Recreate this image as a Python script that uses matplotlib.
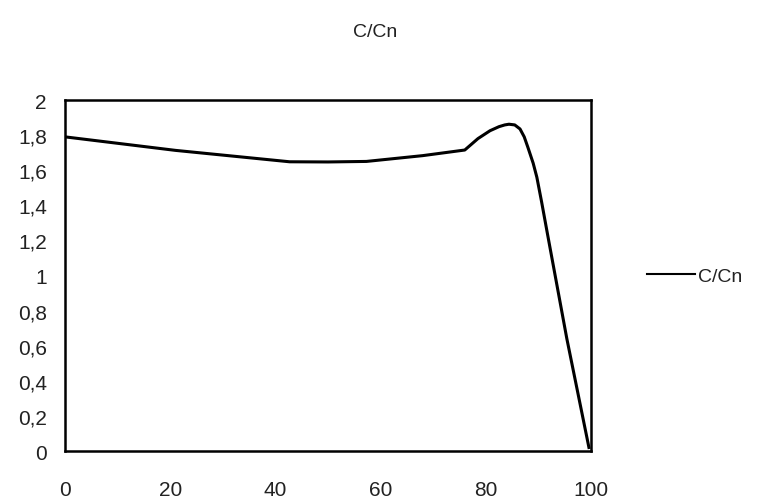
import matplotlib
matplotlib.use("Agg")
import matplotlib.pyplot as plt

# values
pos = [0, 21, 42.7, 50, 57.3, 68, 76, 78.5, 80.8, 82.5, 83.6, 84.4, 85.5, 86.5, 87.3, 88,
       89, 89.7, 90.6, 91.7, 95.4, 99.6]
ratio = [1.79, 1.713, 1.648, 1.647, 1.65, 1.683, 1.715, 1.78, 1.825, 1.848, 1.858, 1.862,
         1.858, 1.835, 1.79, 1.73, 1.64, 1.56, 1.42, 1.24, 0.64, 0.02]
xticks = [0, 20, 40, 60, 80, 100]
yticks = [0, 0.2, 0.4, 0.6, 0.8, 1, 1.2, 1.4, 1.6, 1.8, 2]
ylabels = ["0", "0,2", "0,4", "0,6", "0,8", "1", "1,2", "1,4", "1,6", "1,8", "2"]

plt.rcParams['font.family'] = ['Liberation Sans', 'DejaVu Sans']

fig = plt.figure(figsize=(7.59, 5.02), dpi=100)
ax = fig.add_axes([0.0856, 0.0996, 0.6931, 0.6992])

ax.plot(pos, ratio, color='black', lw=2.2, label='C/Cn', solid_joinstyle='round')

ax.set_xlim(0, 100)
ax.set_ylim(0, 2)
ax.set_xticks(xticks)
ax.set_xticklabels([str(t) for t in xticks])
ax.set_yticks(yticks)
ax.set_yticklabels(ylabels)
ax.tick_params(axis='both', length=0, labelsize=15, colors='#222222')
ax.tick_params(axis='x', pad=21)
ax.tick_params(axis='y', pad=13)
for s in ax.spines.values():
    s.set_linewidth(1.8)
    s.set_color('black')

fig.text(0.494, 0.935, 'C/Cn', ha='center', va='center', fontsize=14, color='#222222')

leg = ax.legend(loc='center left', bbox_to_anchor=(0.852, 0.448),
                bbox_transform=fig.transFigure, frameon=False, fontsize=14,
                handlelength=2.5, handletextpad=0.15, borderpad=0, borderaxespad=0)
for t in leg.get_texts():
    t.set_color('#222222')
for l in leg.get_lines():
    l.set_linewidth(1.5)

fig.savefig('out.png', dpi=100)
